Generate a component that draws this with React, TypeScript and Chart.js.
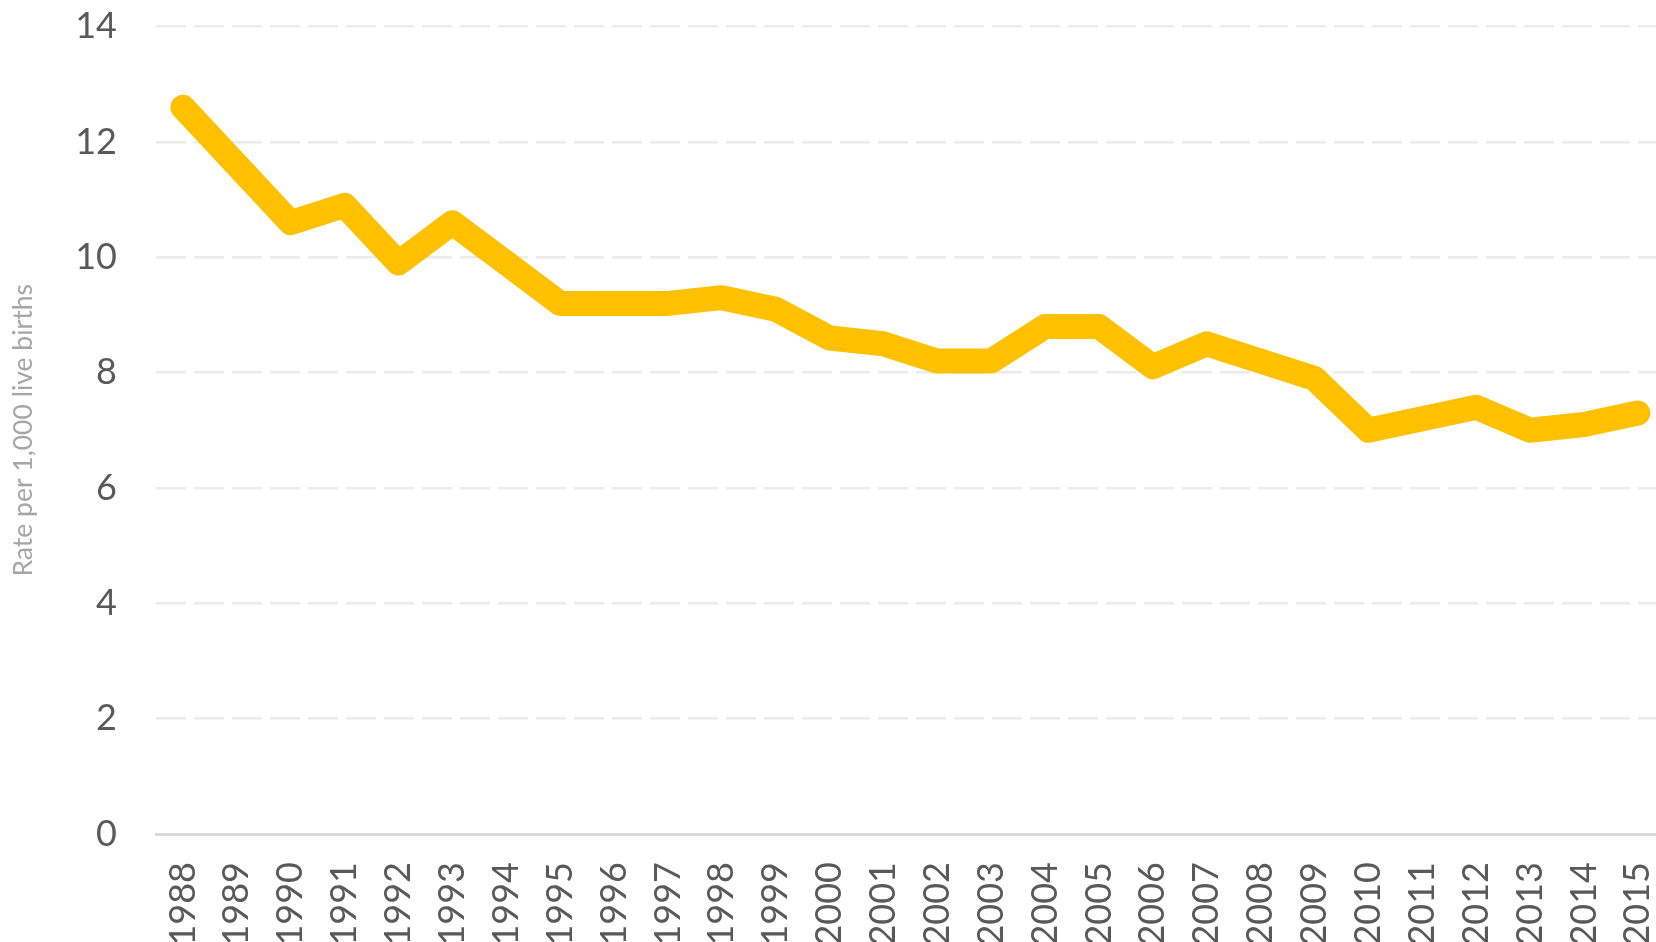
import React, { useEffect, useRef } from "react";
import { Chart, registerables } from "chart.js";

Chart.register(...registerables);

const years: string[] = [
  "1988", "1989", "1990", "1991", "1992", "1993", "1994", "1995", "1996", "1997",
  "1998", "1999", "2000", "2001", "2002", "2003", "2004", "2005", "2006", "2007",
  "2008", "2009", "2010", "2011", "2012", "2013", "2014", "2015",
];

const rates: number[] = [
  12.6, 11.6, 10.6, 10.9, 9.9, 10.6, 9.9, 9.2, 9.2, 9.2,
  9.3, 9.1, 8.6, 8.5, 8.2, 8.2, 8.8, 8.8, 8.1, 8.5,
  8.2, 7.9, 7.0, 7.2, 7.4, 7.0, 7.1, 7.3,
];

const yTitle = "Rate per 1,000 live births";
const yMin = 0;
const yMax = 14;
const yStep = 2;

const CANVAS_W = 1709;
const CANVAS_H = 994;
const SHIFT_Y = -34;

export default function App() {
  const ref = useRef<HTMLCanvasElement | null>(null);

  useEffect(() => {
    if (!ref.current) return;
    const chart = new Chart(ref.current, {
      type: "line",
      data: {
        labels: years,
        datasets: [
          {
            data: rates,
            borderColor: "#FFC000",
            backgroundColor: "#FFC000",
            borderWidth: 25,
            borderCapStyle: "round",
            borderJoinStyle: "round",
            pointRadius: 0,
            pointHoverRadius: 0,
            tension: 0,
            fill: false,
          },
        ],
      },
      options: {
        responsive: false,
        animation: false,
        devicePixelRatio: 1,
        layout: { padding: { top: 26, right: 0, bottom: 0, left: 0 } },
        plugins: {
          legend: { display: false },
          tooltip: { enabled: false },
          title: { display: false },
        },
        scales: {
          x: {
            type: "category",
            offset: true,
            grid: { display: false, drawTicks: false },
            border: { display: true, color: "#d9d9d9", width: 3 },
            ticks: {
              autoSkip: false,
              maxRotation: 90,
              minRotation: 90,
              padding: 28,
              color: "#595959",
              font: { family: "Lato", size: 36 },
            },
            afterFit: (scale: any) => {
              scale.height = 126;
            },
          },
          y: {
            min: yMin,
            max: yMax,
            grid: {
              drawTicks: false,
              lineWidth: 2.5,
              color: (ctx: any) =>
                ctx.tick && ctx.tick.value === 0 ? "rgba(0,0,0,0)" : "#ebebeb",
            },
            border: { display: false, dash: [30, 8] },
            ticks: {
              stepSize: yStep,
              padding: 39,
              color: "#595959",
              font: { family: "Lato", size: 36 },
            },
            title: {
              display: true,
              text: yTitle,
              color: "#a6a6a6",
              font: { family: "Lato", size: 26.5 },
              padding: { top: 8, bottom: 0 },
            },
            afterFit: (scale: any) => {
              scale.width = 156;
            },
          },
        },
      },
    });
    return () => chart.destroy();
  }, []);

  return (
    <div
      style={{
        position: "fixed",
        left: 0,
        top: 0,
        width: 1656,
        height: 942,
        overflow: "hidden",
        background: "#ffffff",
      }}
    >
      <canvas
        ref={ref}
        width={CANVAS_W}
        height={CANVAS_H}
        style={{
          width: CANVAS_W,
          height: CANVAS_H,
          display: "block",
          position: "absolute",
          left: 0,
          top: SHIFT_Y,
        }}
      />
    </div>
  );
}
